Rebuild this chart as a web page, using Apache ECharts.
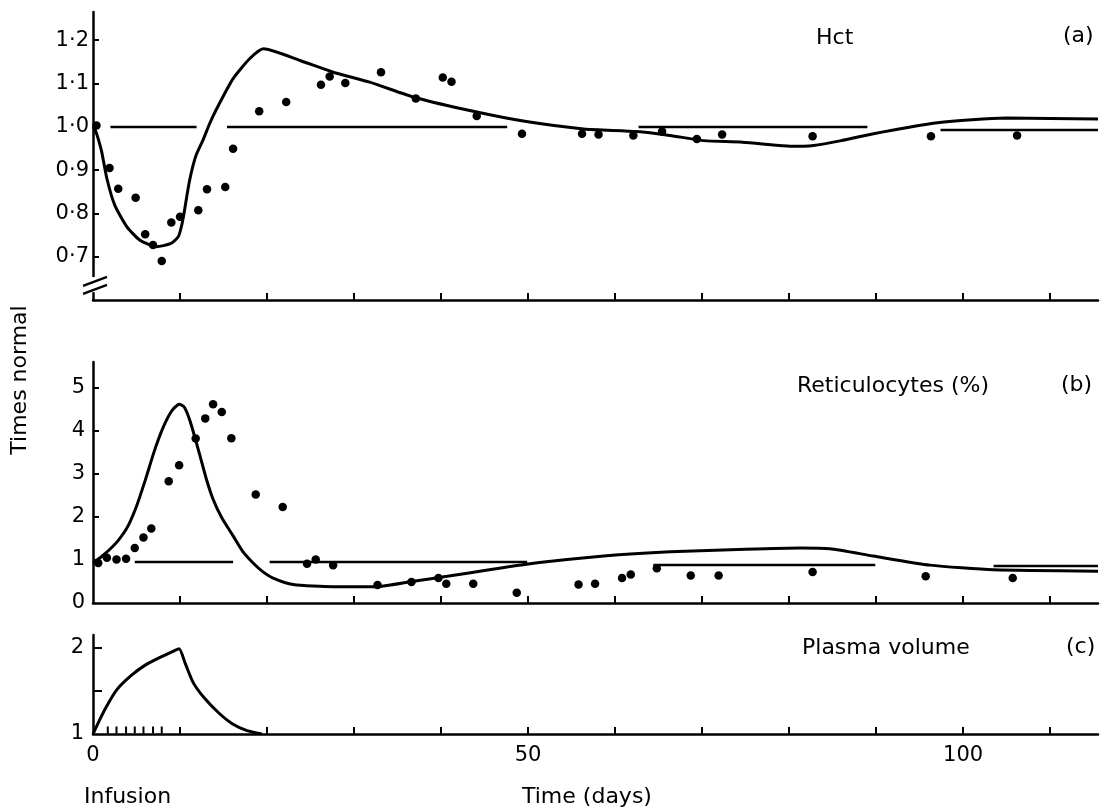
<!DOCTYPE html>
<html><head><meta charset="utf-8">
<script src="https://cdn.jsdelivr.net/npm/echarts@6/dist/echarts.min.js"></script>
<style>html,body{margin:0;padding:0;background:#fff}#c{width:1103px;height:808px}</style>
</head><body><div id="c"></div>
<script>
// ---------- data ----------
// (a) Haematocrit, times normal: [day, value]
const hctDots = [[0.4,1.003],[1.9,0.905],[2.9,0.857],[4.9,0.836],[6.0,0.752],[6.9,0.727],[7.9,0.690],[9.0,0.779],[10.0,0.792],[12.1,0.807],[13.1,0.856],[15.2,0.861],[16.1,0.949],[19.1,1.036],[22.2,1.057],[26.2,1.097],[27.2,1.116],[29.0,1.101],[33.1,1.126],[37.1,1.065],[40.2,1.114],[41.2,1.104],[44.1,1.025],[49.3,0.984],[56.2,0.984],[58.1,0.982],[62.1,0.980],[65.4,0.989],[69.4,0.972],[72.3,0.982],[82.7,0.978],[96.3,0.978],[106.2,0.980]];
const hctModel = [[0,1.0],[0.3,0.99],[0.6,0.972],[1.0,0.942],[1.6,0.880],[2.5,0.819],[3.9,0.769],[5.4,0.738],[7.3,0.723],[8.9,0.730],[9.8,0.746],[10.2,0.773],[10.5,0.805],[10.8,0.842],[11.1,0.876],[11.5,0.911],[11.9,0.937],[12.7,0.972],[13.4,1.007],[14.2,1.041],[16.1,1.111],[18.0,1.157],[19.6,1.180],[23.8,1.153],[27.6,1.126],[31.8,1.103],[37.1,1.067],[44.1,1.034],[49.8,1.012],[56.4,0.995],[62.5,0.989],[66.3,0.980],[70.2,0.968],[74.4,0.965],[77.0,0.960],[80.1,0.955],[82.8,0.957],[86.0,0.968],[89.7,0.984],[96.2,1.007],[101.0,1.016],[105.0,1.020],[115.5,1.018]];
// normal-level segments: [fromDay, toDay, level]
const hctNormal = [[2.0,11.9,1.0],[15.4,47.6,1.0],[62.7,89.0,1.0],[97.4,115.5,0.994]];
const hctTickValues = [0.7,0.8,0.9,1.0,1.1,1.2];
const hctTickLabels = ['0·7','0·8','0·9','1·0','1·1','1·2'];

// (b) Reticulocytes (%), times normal
const retDots = [[0.6,0.93],[1.6,1.05],[2.7,1.01],[3.8,1.03],[4.8,1.28],[5.8,1.52],[6.7,1.73],[8.7,2.83],[9.9,3.20],[11.8,3.82],[12.9,4.29],[13.8,4.62],[14.8,4.44],[15.9,3.83],[18.7,2.52],[21.8,2.23],[24.6,0.91],[25.6,1.01],[27.6,0.88],[32.7,0.42],[36.6,0.49],[39.7,0.58],[40.6,0.45],[43.7,0.45],[48.7,0.24],[55.8,0.43],[57.7,0.45],[60.8,0.58],[61.8,0.66],[64.8,0.81],[68.7,0.64],[71.9,0.64],[82.7,0.72],[95.7,0.62],[105.7,0.58]];
const retModel = [[0,0.93],[1,1.08],[2,1.26],[3,1.48],[4,1.78],[5,2.25],[6,2.85],[7,3.5],[8,4.05],[9,4.45],[9.9,4.62],[10.5,4.55],[11.2,4.2],[12.3,3.42],[13.0,2.9],[13.8,2.41],[14.8,1.98],[16.1,1.56],[17.2,1.2],[18.4,0.93],[19.5,0.73],[20.7,0.58],[23.0,0.43],[27.6,0.38],[32.5,0.38],[36.6,0.50],[40.7,0.62],[49.8,0.90],[58.7,1.09],[66.3,1.19],[75.0,1.25],[81.3,1.28],[84.7,1.26],[89.7,1.09],[96.2,0.88],[103.5,0.77],[115.5,0.74]];
const retNormal = [[4.8,16.1,0.97],[20.3,49.9,0.95],[64.4,89.9,0.90],[103.5,115.5,0.87]];
const retTickValues = [0,1,2,3,4,5];

// (c) Plasma volume, times normal
const pvModel = [[0,1.0],[0.6,1.13],[1.5,1.31],[2.7,1.51],[4.4,1.68],[6.0,1.80],[7.7,1.89],[9.2,1.96],[9.9,1.99],[10.6,1.82],[11.5,1.60],[12.7,1.43],[14.4,1.25],[16.0,1.12],[17.7,1.04],[19.4,1.0]];
const infusionDays = [1.7,2.7,3.8,4.8,5.8,6.9,7.9];
const pvTickValues = [1.5,2];
const pvLabelValues = [1,2];

const dayTicks = [10,20,30,40,50,60,70,80,90,100,110];
const dayLabels = [0,50,100];

// ---------- chart ----------
const FONT = 'DejaVu Sans';
const BLACK = '#000';
const TICK_FS = 21, TEXT_FS = 22;
const chart = echarts.init(document.getElementById('c'), null, {renderer:'canvas'});

const grids = [
  {left:93, top:12, width:1005, height:288},
  {left:93, top:362, width:1005, height:241},
  {left:93, top:635, width:1005, height:99}
];
function xAx(i){
  return {
    type:'value', gridIndex:i, min:0, max:115.5,
    axisLine:{show:true, onZero:false, lineStyle:{color:BLACK, width:2.5}},
    axisTick:{show:true, inside:true, length:7, customValues:dayTicks, lineStyle:{color:BLACK, width:2}},
    axisLabel:{show:i===2, customValues:dayLabels, margin:11, color:BLACK, fontSize:TICK_FS, fontFamily:FONT},
    splitLine:{show:false}
  };
}
function labelFor(values, labels){
  return v => { for (let k=0;k<values.length;k++) if (Math.abs(values[k]-v)<1e-6) return labels[k]; return ''; };
}
const yAxes = [
  {type:'value', gridIndex:0, min:0.6, max:1.265,
   axisLine:{show:true, onZero:false, lineStyle:{color:BLACK, width:2.5}},
   axisTick:{show:true, inside:true, length:6, customValues:hctTickValues, lineStyle:{color:BLACK, width:2}},
   axisLabel:{customValues:hctTickValues, formatter:labelFor(hctTickValues,hctTickLabels), margin:4, color:BLACK, fontSize:TICK_FS, fontFamily:FONT},
   splitLine:{show:false}},
  {type:'value', gridIndex:1, min:0, max:5.6,
   axisLine:{show:true, onZero:false, lineStyle:{color:BLACK, width:2.5}},
   axisTick:{show:true, inside:true, length:6, customValues:retTickValues.slice(1), lineStyle:{color:BLACK, width:2}},
   axisLabel:{customValues:retTickValues, margin:8, color:BLACK, fontSize:TICK_FS, fontFamily:FONT},
   splitLine:{show:false}},
  {type:'value', gridIndex:2, min:1, max:2.15,
   axisLine:{show:true, onZero:false, lineStyle:{color:BLACK, width:2.5}},
   axisTick:{show:true, inside:true, length:9, customValues:pvTickValues, lineStyle:{color:BLACK, width:2}},
   axisLabel:{customValues:pvLabelValues, margin:9, color:BLACK, fontSize:TICK_FS, fontFamily:FONT},
   splitLine:{show:false}}
];

function segs(list){ return list.map(s => ({coords:[[s[0],s[2]],[s[1],s[2]]]})); }
const dotStyle = {color:BLACK, opacity:1};
const curveStyle = {color:BLACK, width:3};

chart.setOption({
  animation:false,
  backgroundColor:'#fff',
  grid:grids,
  xAxis:[xAx(0),xAx(1),xAx(2)],
  yAxis:yAxes,
  series:[
    {type:'lines', coordinateSystem:'cartesian2d', xAxisIndex:0, yAxisIndex:0, data:segs(hctNormal), lineStyle:{color:BLACK, width:2.3, opacity:1}, silent:true},
    {type:'line', xAxisIndex:0, yAxisIndex:0, data:hctModel, smooth:0.2, showSymbol:false, lineStyle:curveStyle},
    {type:'scatter', xAxisIndex:0, yAxisIndex:0, data:hctDots, symbolSize:8.5, itemStyle:dotStyle},

    {type:'lines', coordinateSystem:'cartesian2d', xAxisIndex:1, yAxisIndex:1, data:segs(retNormal), lineStyle:{color:BLACK, width:2.3, opacity:1}, silent:true},
    {type:'line', xAxisIndex:1, yAxisIndex:1, data:retModel, smooth:0.2, showSymbol:false, lineStyle:curveStyle},
    {type:'scatter', xAxisIndex:1, yAxisIndex:1, data:retDots, symbolSize:8.5, itemStyle:dotStyle},

    {type:'line', xAxisIndex:2, yAxisIndex:2, data:pvModel, smooth:0.2, showSymbol:false, lineStyle:curveStyle},
    {type:'scatter', xAxisIndex:2, yAxisIndex:2, data:infusionDays.map(d=>[d,1]), symbol:'rect', symbolSize:[2,7], symbolOffset:[0,-4], itemStyle:dotStyle, clip:false}
  ]
});

// axis break on (a) and text annotations
const pTop = chart.convertToPixel({xAxisIndex:0, yAxisIndex:0}, [0, 0.653]);
const pBot = chart.convertToPixel({xAxisIndex:0, yAxisIndex:0}, [0, 0.618]);
const pMid = chart.convertToPixel({xAxisIndex:0, yAxisIndex:0}, [0, 0.637]);
const ax = pMid[0], ym = pMid[1];
function txt(text, x, y, align, extra){
  return Object.assign({type:'text', x:x, y:y, z:100, style:{text:text, fill:BLACK, font:TEXT_FS+'px "'+FONT+'"', align:align||'left', verticalAlign:'middle'}}, extra||{});
}
chart.setOption({
  graphic:[
    {type:'rect', z:100, shape:{x:ax-4, y:pTop[1], width:8, height:pBot[1]-pTop[1]}, style:{fill:'#fff'}},
    {type:'line', z:101, shape:{x1:ax-10, y1:ym+2, x2:ax+14, y2:ym-7}, style:{stroke:BLACK, lineWidth:2.4}},
    {type:'line', z:101, shape:{x1:ax-10, y1:ym+10, x2:ax+14, y2:ym+1}, style:{stroke:BLACK, lineWidth:2.4}},
    txt('Hct', 816, 38),
    txt('(a)', 1063, 36),
    txt('Reticulocytes (%)', 797, 386),
    txt('(b)', 1061, 385),
    txt('Plasma volume', 802, 648),
    txt('(c)', 1066, 647),
    txt('Times normal', 20, 380, 'center', {rotation:Math.PI/2}),
    txt('Infusion', 84, 797),
    txt('Time (days)', 522, 797)
  ]
});
</script>
</body></html>
